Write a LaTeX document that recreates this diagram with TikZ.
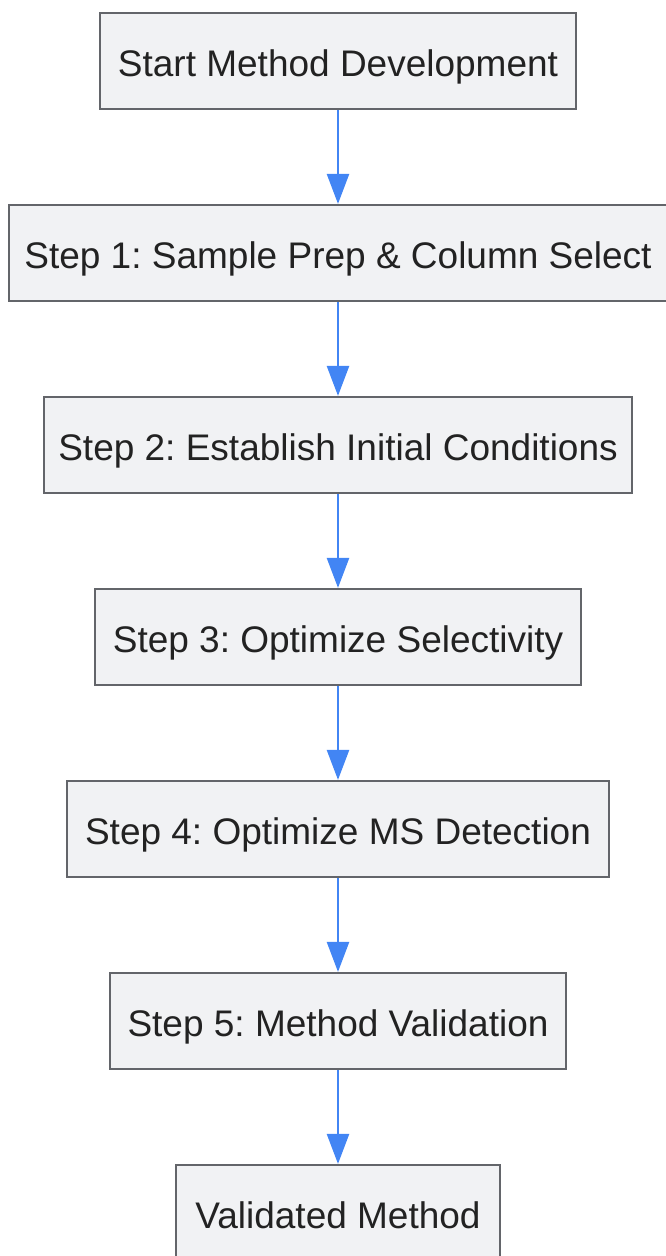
\documentclass[tikz,border=0pt]{standalone}
\usepackage{fontspec}
\setmainfont{Liberation Sans}
\usetikzlibrary{arrows.meta}
\definecolor{boxfill}{HTML}{F1F2F4}
\definecolor{boxline}{HTML}{63656A}
\definecolor{txt}{HTML}{222222}
\definecolor{arr}{HTML}{4285F4}
\frenchspacing
\begin{document}
\begin{tikzpicture}[x=1pt,y=1pt,
  stepbox/.style={draw=boxline, fill=boxfill, line width=2.2pt, minimum height=96pt,
    inner sep=0pt, text height=30pt, text depth=0pt, text=txt, font=\fontsize{37}{44}\selectfont},
  conn/.style={draw=arr, line width=2.5pt, -{Triangle[length=30pt,width=22pt]}}]
\useasboundingbox (0,0) rectangle (665,-1256);
\node[stepbox, minimum width=476pt] (b0) at (338,-61) {Start Method Development};
\node[stepbox, minimum width=658pt] (b1) at (338,-253) {Step 1: Sample Prep \& Column Select};
\node[stepbox, minimum width=588pt] (b2) at (338,-445) {Step 2: Establish Initial Conditions};
\node[stepbox, minimum width=486pt] (b3) at (338,-637) {Step 3: Optimize Selectivity};
\node[stepbox, minimum width=542pt] (b4) at (338,-829) {Step 4: Optimize MS Detection};
\node[stepbox, minimum width=456pt] (b5) at (338,-1021) {Step 5: Method Validation};
\node[stepbox, minimum width=324pt] (b6) at (338,-1213) {Validated Method};
\draw[conn] (b0.south) -- (b1.north);
\draw[conn] (b1.south) -- (b2.north);
\draw[conn] (b2.south) -- (b3.north);
\draw[conn] (b3.south) -- (b4.north);
\draw[conn] (b4.south) -- (b5.north);
\draw[conn] (b5.south) -- (b6.north);
\end{tikzpicture}
\end{document}
